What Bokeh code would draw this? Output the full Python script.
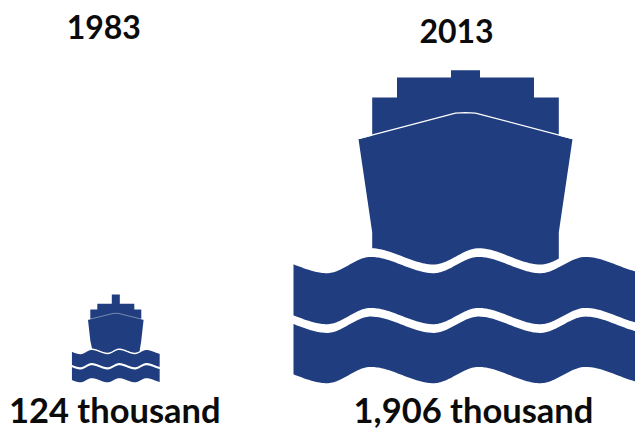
from bokeh.core.properties import value
from bokeh.embed import file_html
from bokeh.models import Range1d
from bokeh.plotting import figure
from bokeh.resources import INLINE
import numpy as np

years = ["1983", "2013"]
ships_thousand = [124, 1906]
amount_labels = ["124 thousand", "1,906 thousand"]

NAVY = "#1F3D7F"
INK = "#0B0B0B"

# Pictogram outline in units of the larger icon: half-widths from the bow
# centre line and depths below the funnel top.
STEP_HALF = [14.5, 68.5, 93.3]
STEP_DEPTH = [0.0, 7.3, 27.3]
HULL_TOP = [(-107.0, 69.0), (-10.0, 43.6), (0.0, 43.0), (10.0, 43.6), (107.0, 69.0)]
KEEL_HALF = 93.3
SIDE_END_DEPTH = 162.0

# The small icon keeps its funnel and steps legible, so each icon has its
# own mapping from outline units to pixels.
OUTLINE_HALF = [0.0, 14.5, 68.5, 93.3, 107.0]
OUTLINE_DEPTH = [0.0, 7.3, 27.3, 43.0, 69.0, 162.0, 178.0]
icon_half_px = [[0.0, 4.0, 18.5, 25.5, 27.8], [0.0, 14.5, 68.5, 93.3, 107.0]]
icon_depth_px = [[0.0, 9.3, 15.0, 19.0, 25.3, 46.0, 54.0], [0.0, 7.3, 27.3, 43.0, 69.0, 162.0, 178.0]]

# Wave crests (depth 0) and troughs (depth 16.3) along the water's surface.
WAVE_X = [-202, -138.3, -95, -31.7, 13, 75, 120, 183]
WAVE_DEPTH = [0, 16.3, 0, 16.3, 0, 16.3, 0, 16.3]
WATER_HALF = 172.0
BAND_TOP = [0.0, 59.7]
BAND_BOTTOM = [51.0, 110.0]


def wave(xs):
    """Smooth crest-to-trough profile through the wave knots."""
    i = np.clip(np.searchsorted(WAVE_X, xs, side="right") - 1, 0, len(WAVE_X) - 2)
    x0, x1 = np.take(WAVE_X, i), np.take(WAVE_X, i + 1)
    d0, d1 = np.take(WAVE_DEPTH, i), np.take(WAVE_DEPTH, i + 1)
    t = (xs - x0) / (x1 - x0)
    return d0 + (d1 - d0) * t * t * (3 - 2 * t)


# Icon width grows with the square root of the count, so area carries the value.
SCALE_BASE = np.sqrt(ships_thousand[1])

icon_centre = [115.3, 465.0]
icon_top = [294.0, 69.7]
water_y_scale = [0.256, 1.0]
water_gap = [1.5, 8.7]
deck_line_width = [0.4, 1.3]
year_x = [103.3, 456.0]
year_y = [26.5, 30.5]
label_x = [114.3, 473.0]
label_y = [409.0, 409.0]

p = figure(
    width=635, height=429, output_backend="svg", toolbar_location=None,
    x_range=Range1d(0, 635), y_range=Range1d(429, 0),
    min_border=0, outline_line_color=None, background_fill_color="white",
    border_fill_color="white",
)
p.axis.visible = False
p.grid.visible = False

for k in range(2):
    sx = np.sqrt(ships_thousand[k]) / SCALE_BASE
    sy_water = water_y_scale[k]
    cx = icon_centre[k]
    top = icon_top[k]

    def to_x(v):
        v = np.asarray(v, dtype=float)
        return cx + np.sign(v) * np.interp(np.abs(v), OUTLINE_HALF, icon_half_px[k])

    def to_y(v):
        return top + np.interp(v, OUTLINE_DEPTH, icon_depth_px[k])

    # Superstructure: left flank climbing to the funnel top, then mirrored.
    sup_x = [-STEP_HALF[2], -STEP_HALF[2], -STEP_HALF[1], -STEP_HALF[1], -STEP_HALF[0], -STEP_HALF[0]]
    sup_y = [OUTLINE_DEPTH[4], STEP_DEPTH[2], STEP_DEPTH[2], STEP_DEPTH[1], STEP_DEPTH[1], STEP_DEPTH[0]]
    sup_x += [-v for v in reversed(sup_x)]
    sup_y += list(reversed(sup_y))
    p.patch(to_x(sup_x), to_y(sup_y), fill_color=NAVY, line_color=None)

    # Hull with a wavy waterline along its foot.
    deck = np.array(HULL_TOP)
    foot_x = np.linspace(KEEL_HALF, -KEEL_HALF, 90)
    foot_px = cx + foot_x * sx
    foot_py = top + icon_depth_px[k][-1] + wave(foot_x) * sy_water
    side_px = to_x([KEEL_HALF, -KEEL_HALF])
    side_py = to_y([SIDE_END_DEPTH, SIDE_END_DEPTH])
    hull_px = list(to_x(deck[:, 0])) + [side_px[0]] + list(foot_px) + [side_px[1]]
    hull_py = list(to_y(deck[:, 1])) + [side_py[0]] + list(foot_py) + [side_py[1]]
    p.patch(hull_px, hull_py, fill_color=NAVY, line_color=None)

    # Thin white deck line between superstructure and hull.
    p.line(to_x(deck[:, 0]), to_y(deck[:, 1]) - deck_line_width[k] * 0.5,
           line_color="white", line_width=deck_line_width[k])

    # Two bands of water.
    water_top = top + icon_depth_px[k][-1] + water_gap[k]
    xs = np.linspace(-WATER_HALF, WATER_HALF, 240)
    profile = wave(xs)
    for b in range(2):
        upper = water_top + sy_water * (BAND_TOP[b] + profile)
        lower = water_top + sy_water * (BAND_BOTTOM[b] + profile)
        p.patch(
            list(cx + sx * xs) + list(cx + sx * xs[::-1]),
            list(upper) + list(lower[::-1]),
            fill_color=NAVY, line_color=None,
        )

p.text(year_x, year_y, text=years, text_font=value("Lato"), text_font_style="bold",
       text_font_size="32px", text_color=INK, text_align="center", text_baseline="middle")
p.text(label_x, label_y, text=amount_labels, text_font=value("Lato"),
       text_font_style="bold", text_font_size="34.5px", text_color=INK, text_align="center",
       text_baseline="middle")

open("out.html", "w").write(file_html(p, INLINE))
